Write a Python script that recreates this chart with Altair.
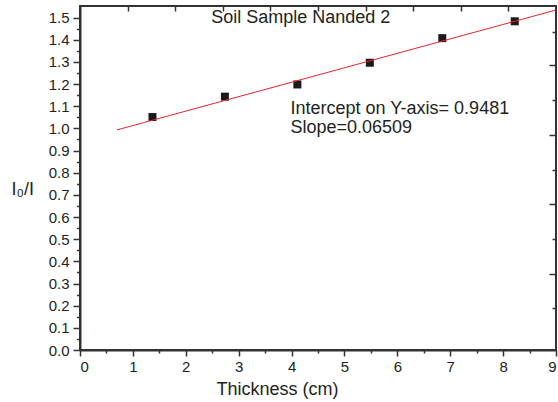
import altair as alt
import pandas as pd

# Data
thickness = [1.37, 2.74, 4.11, 5.48, 6.85, 8.22]
ratio = [1.051, 1.143, 1.198, 1.296, 1.407, 1.483]

fit_x = [0.70, 9.00]
fit_y = [0.993, 1.534]

notes = ["Soil Sample Nanded 2", "Intercept on Y-axis= 0.9481", "Slope=0.06509"]
notes_x = [2.48, 3.98, 3.98]
notes_y = [1.474, 1.065, 0.978]

x_ticks = [i * 0.5 for i in range(19)]
y_ticks = [round(i * 0.05, 2) for i in range(31)]
top_ticks = [0.9, 1.8, 2.7, 3.6, 4.5, 5.4, 6.3, 7.2, 8.1]
right_ticks = [0.188, 0.345, 0.499, 0.658, 0.811, 0.968, 1.126, 1.284, 1.434]
right_long = [0.345, 0.658, 0.968, 1.284]

FONT = "Liberation Sans"
INK = "#231f20"
AX = "#333333"
XDOM = [0, 9]
YDOM = [0, 1.552]

pts = pd.DataFrame({"x": thickness, "y": ratio})
fit = pd.DataFrame({"x": fit_x, "y": fit_y})
txt = pd.DataFrame({"x": notes_x, "y": notes_y, "t": notes})

xs = alt.Scale(domain=XDOM, nice=False, zero=False)
ys = alt.Scale(domain=YDOM, nice=False, zero=False)

x_major = "abs(datum.value - round(datum.value)) < 0.001"
y_major = "abs(datum.value*10 - round(datum.value*10)) < 0.001"

x_axis = alt.Axis(
    orient="bottom", values=x_ticks, grid=False,
    labelExpr=f"{x_major} ? format(datum.value, 'd') : ''",
    tickSize={"condition": {"test": x_major, "value": 6}, "value": 3},
    labelOverlap=False, labelPadding=3, labelFontSize=15, labelFont=FONT, labelColor=INK,
    domainColor=AX, domainWidth=2, tickColor=AX, tickWidth=1.5,
    title="Thickness (cm)", titleFont=FONT, titleFontSize=18, titleFontWeight="normal",
    titleColor=INK, titleAlign="center", titleAnchor="start", titleX=197, titleY=44.5,
    titleBaseline="alphabetic",
)
y_axis = alt.Axis(
    orient="left", values=y_ticks, grid=False,
    labelExpr=f"{y_major} ? format(datum.value, '.1f') : ''",
    tickSize={"condition": {"test": y_major, "value": 7}, "value": 3.5},
    labelOverlap=False, labelPadding=4, labelFontSize=15, labelFont=FONT, labelColor=INK,
    domainColor=AX, domainWidth=2, tickColor=AX, tickWidth=1.5,
    title="I₀/I", titleFont=FONT, titleFontSize=18, titleFontWeight="normal",
    titleColor=INK, titleAngle=0, titleAlign="left", titleAnchor="start",
    titleX=-69, titleY=188.5, titleBaseline="alphabetic",
)

points = alt.Chart(pts).mark_point(shape="square", filled=True, size=64, color="#1a1a1a", opacity=1).encode(
    x=alt.X("x:Q", scale=xs, axis=x_axis),
    y=alt.Y("y:Q", scale=ys, axis=y_axis),
)

line = alt.Chart(fit).mark_line(color="#e8242c", strokeWidth=1).encode(
    x=alt.X("x:Q", scale=xs, axis=None),
    y=alt.Y("y:Q", scale=ys, axis=None),
)

texts = alt.Chart(txt).mark_text(align="left", baseline="alphabetic", font=FONT, fontSize=18, color=INK).encode(
    x=alt.X("x:Q", scale=xs, axis=None),
    y=alt.Y("y:Q", scale=ys, axis=None),
    text="t:N",
)

# helper layer: inward ticks on top and right edges
helper = alt.Chart(pts).mark_point(opacity=0).encode(
    x=alt.X("x:Q", scale=xs, axis=alt.Axis(
        orient="bottom", offset=-344, values=top_ticks, labels=False, domain=False,
        grid=False, tickSize=5, tickColor=AX, tickWidth=1.5, title=None)),
    y=alt.Y("y:Q", scale=ys, axis=alt.Axis(
        orient="left", offset=-476, values=right_ticks, labels=False, domain=False,
        grid=False, tickColor=AX, tickWidth=1.5, title=None,
        tickSize={"condition": {"test": "indexof([0.345,0.658,0.968,1.284], datum.value) >= 0", "value": 7}, "value": 4})),
)

chart = alt.layer(points, line, texts, helper).resolve_scale(
    x="independent", y="independent"
).properties(
    width=476, height=344,
    padding={"left": 80, "top": 6, "right": 2, "bottom": 52},
    autosize=alt.AutoSizeParams(type="none"),
    background="white",
).configure_view(stroke=AX, strokeWidth=2)

chart.save("out.html", embed_options={"renderer": "svg", "actions": False})
